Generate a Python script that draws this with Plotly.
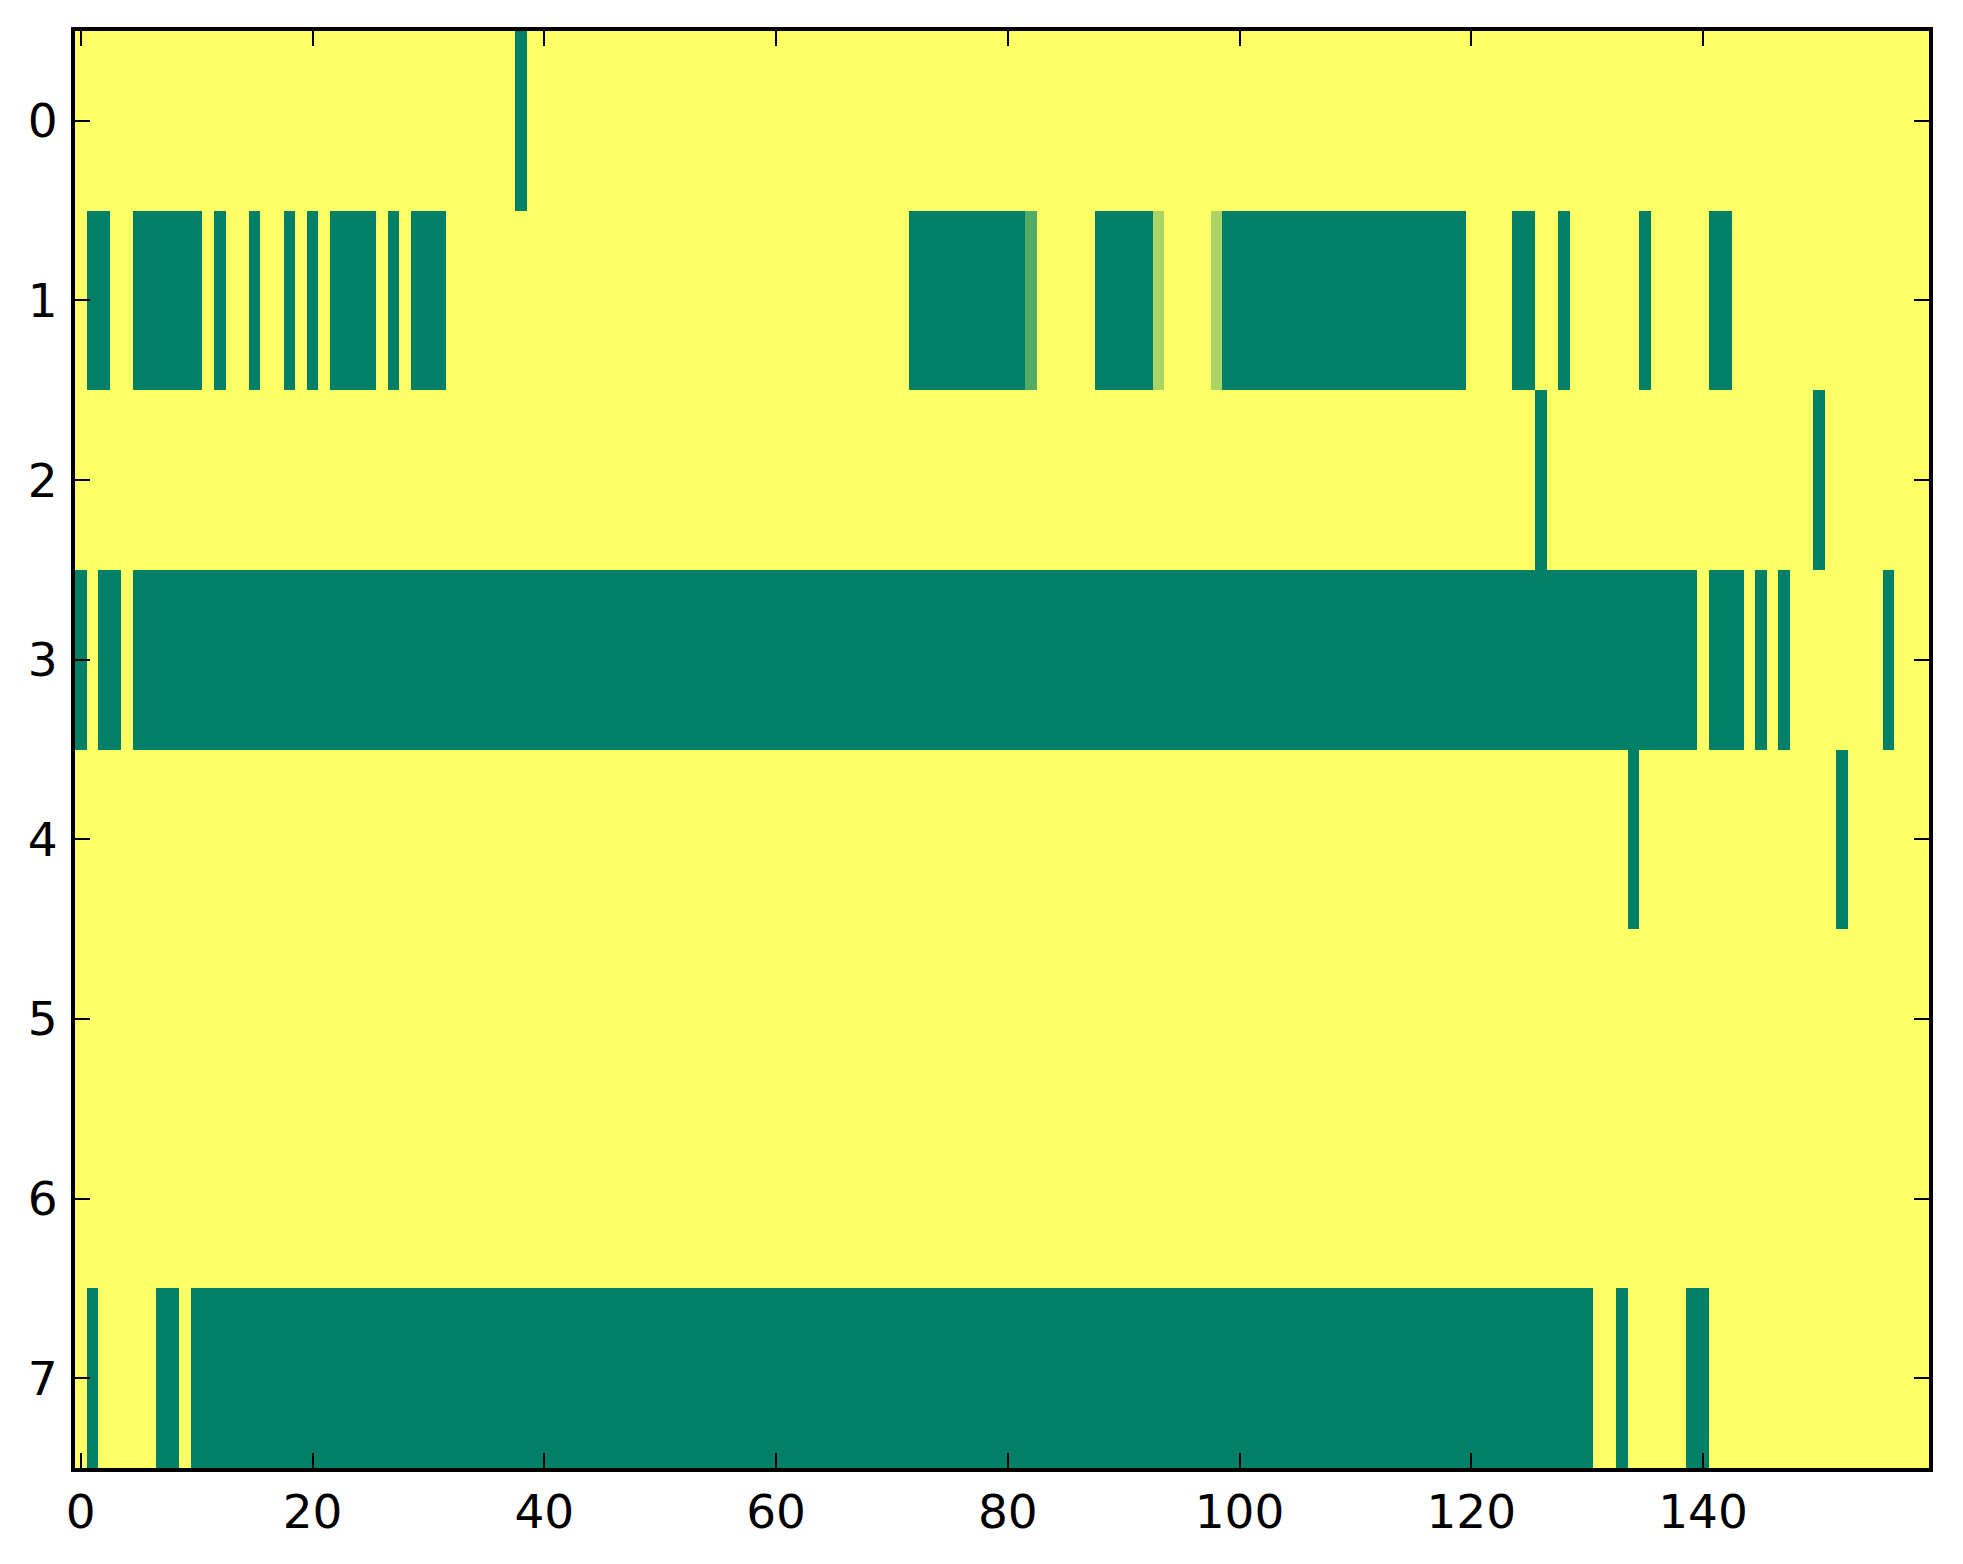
import numpy as np
import plotly.graph_objects as go

# grid size and axis ticks
n_rows = 8
n_cols = 160
x_ticks = [0, 20, 40, 60, 80, 100, 120, 140]
y_ticks = [0, 1, 2, 3, 4, 5, 6, 7]

# green cells (value 0) per row, given as (first col, last col) runs
row0_runs = [(38, 38)]
row1_runs = [(1, 2), (5, 10), (12, 12), (15, 15), (18, 18), (20, 20), (22, 25),
             (27, 27), (29, 31), (72, 81), (88, 92), (99, 119), (124, 125),
             (128, 128), (135, 135), (141, 142)]
row2_runs = [(126, 126), (150, 150)]
row3_runs = [(0, 0), (2, 3), (5, 139), (141, 143), (145, 145), (147, 147),
             (156, 156)]
row4_runs = [(134, 134), (152, 152)]
row5_runs = []
row6_runs = []
row7_runs = [(1, 1), (7, 8), (10, 130), (133, 133), (139, 140)]

# in-between cells in row 1: column -> value
row1_partial = {82: 1 / 3, 93: 2 / 3, 98: 2 / 3}

all_runs = [row0_runs, row1_runs, row2_runs, row3_runs,
            row4_runs, row5_runs, row6_runs, row7_runs]

z = np.ones((n_rows, n_cols))
for r, runs in enumerate(all_runs):
    for a, b in runs:
        z[r, a:b + 1] = 0
for c, v in row1_partial.items():
    z[1, c] = v

# matplotlib "summer" colormap end points
summer = [[0, "#008066"], [1, "#ffff66"]]

fig = go.Figure(go.Heatmap(
    z=z,
    x=np.arange(n_cols),
    y=np.arange(n_rows),
    colorscale=summer,
    zmin=0, zmax=1,
    showscale=False,
    hoverinfo="skip",
))

axis_style = dict(
    showline=True, linecolor="black", linewidth=4, mirror="ticks",
    ticks="inside", ticklen=15, tickwidth=1.5, tickcolor="black",
    showgrid=False, zeroline=False,
    tickfont=dict(family="DejaVu Sans", size=47, color="black"),
)

fig.update_xaxes(range=[-0.5, n_cols - 0.5], tickvals=x_ticks,
                 ticklabelstandoff=0, **axis_style)
fig.update_yaxes(range=[n_rows - 0.5, -0.5], tickvals=y_ticks,
                 ticklabelstandoff=4, **axis_style)

fig.update_layout(
    width=1963, height=1564,
    margin=dict(l=67, r=42, t=23, b=104),
    paper_bgcolor="white", plot_bgcolor="white",
    font=dict(family="DejaVu Sans"),
)

fig.write_html("out.html")
